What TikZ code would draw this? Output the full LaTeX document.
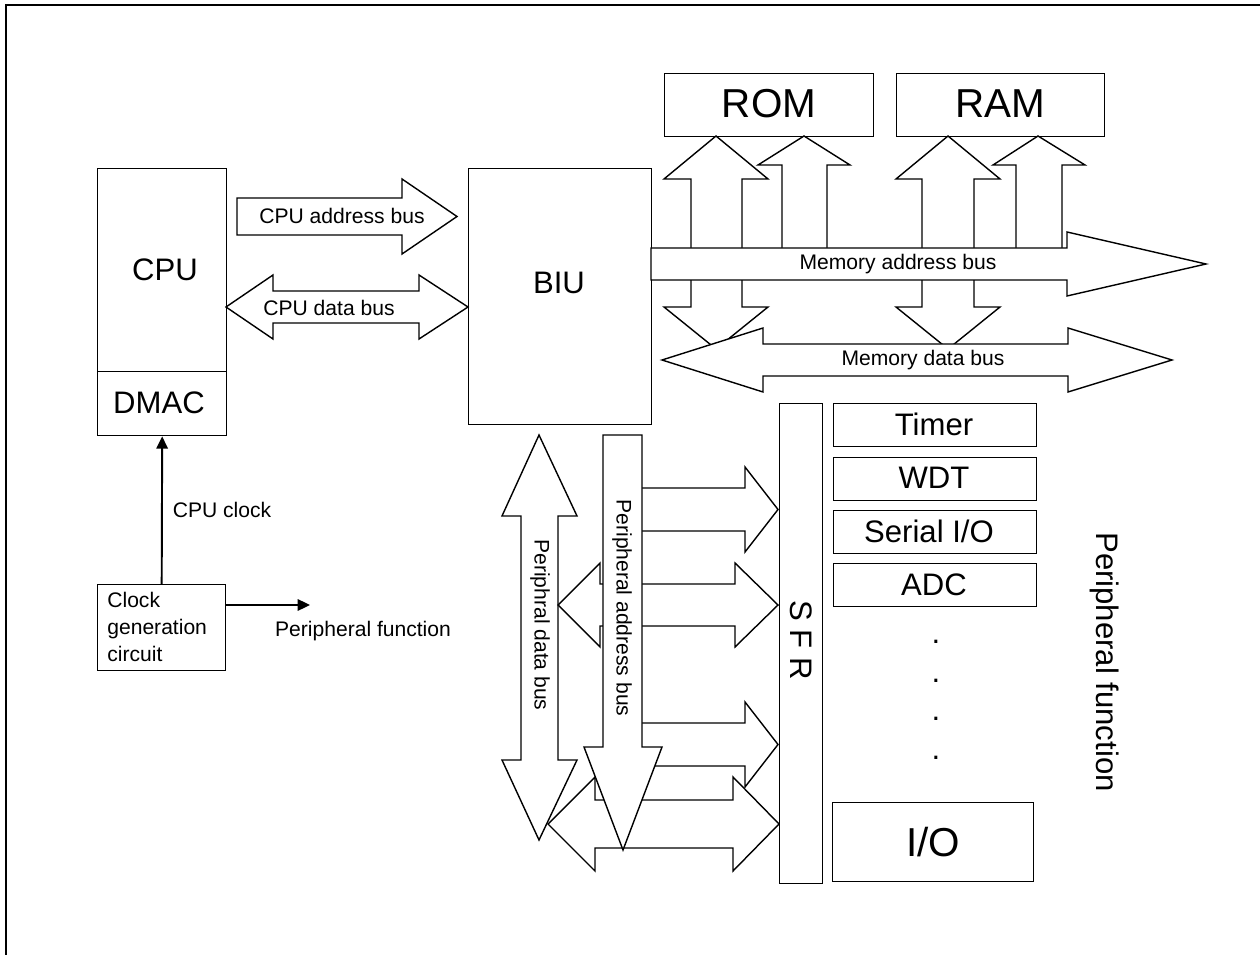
\documentclass[tikz,border=0pt]{standalone}
\usepackage{fontspec}
\setmainfont{Liberation Sans}
\usetikzlibrary{arrows.meta}

\begin{document}
\begin{tikzpicture}[x=0.02cm, y=-0.02cm,
    blk/.style={draw, line width=0.8pt, inner sep=0pt, anchor=north west},
    bus/.style={draw, fill=white, line width=0.8pt},
    clk/.style={line width=1.1pt, -{Triangle[length=7pt, width=6.5pt]}},
    lbl/.style={font=\fontsize{12}{14}\selectfont},
    lblbig/.style={font=\fontsize{17.7}{21}\selectfont},
    lblhuge/.style={font=\fontsize{23}{27}\selectfont}]

    \useasboundingbox (0,0) rectangle (1260,955);
    \draw[line width=1.3pt] (6,955) -- (6,5) -- (1260,5);

    % blocks
    \node[blk, minimum width=2.58cm, minimum height=4.06cm] (cpu) at (97,168) {};
    \node[blk, minimum width=2.58cm, minimum height=1.28cm] (dmac) at (97,371) {};
    \node[blk, minimum width=2.56cm, minimum height=1.72cm] (clock) at (97,584) {};
    \node[blk, minimum width=3.66cm, minimum height=5.12cm] (biu) at (468,168) {};
    \node[blk, minimum width=4.18cm, minimum height=1.26cm] (rom) at (664,73) {};
    \node[blk, minimum width=4.16cm, minimum height=1.26cm] (ram) at (896,73) {};
    \node[blk, minimum width=0.86cm, minimum height=9.6cm] (sfr) at (779,403) {};
    \node[blk, minimum width=4.06cm, minimum height=0.86cm] (timer) at (833,403) {};
    \node[blk, minimum width=4.06cm, minimum height=0.86cm] (wdt) at (833,457) {};
    \node[blk, minimum width=4.06cm, minimum height=0.86cm] (sio) at (833,510) {};
    \node[blk, minimum width=4.06cm, minimum height=0.86cm] (adc) at (833,563) {};
    \node[blk, minimum width=4.02cm, minimum height=1.58cm] (io) at (832,802) {};

    \node[lblbig] (cputxt) at (165,270) {CPU};
    \node[lblbig] (dmactxt) at (159,403) {DMAC};
    \node[lblbig] (biutxt) at (559,283) {BIU};
    \node[lblhuge] (romtxt) at (769,104) {ROM};
    \node[lblhuge] (ramtxt) at (1000,104) {RAM};
    \node[lblbig, rotate=-90] (sfrtxt) at (801,640) {S F R};
    \node[lblbig] (timertxt) at (934,424.5) {Timer};
    \node[lblbig] (wdttxt) at (934,478) {WDT};
    \node[lblbig] (siotxt) at (929,531) {Serial I/O};
    \node[lblbig] (adctxt) at (934,585) {ADC};
    \node[lblbig] (dot1) at (936,642) {.};
    \node[lblbig] (dot2) at (936,681) {.};
    \node[lblbig] (dot3) at (936,719) {.};
    \node[lblbig] (dot4) at (936,758) {.};
    \node[lblhuge] (iotxt) at (933,842) {I/O};
    \node[lblbig, rotate=-90] (pftxt) at (1105,662) {Peripheral function};
    \node[lbl, anchor=west, inner sep=0pt, align=left,
          font=\fontsize{12}{15.3}\selectfont] (clocktxt) at (107,627)
          {Clock\\generation\\circuit};

    % clock lines
    \draw[clk] (clock.north) -- (dmac.south);
    \node[lbl] (cpuclk) at (222,510) {CPU clock};
    \coordinate (pfend) at (310,605);
    \draw[clk] (clock.east |- pfend) -- (pfend);
    \node[lbl] (pfclk) at (363,631) {Peripheral function};

    % CPU buses
    \filldraw[bus] (237,198) -- (402,198) -- (402,179) -- (457,216.5) -- (402,254) -- (402,235) -- (237,235) -- cycle;
    \node[lbl] (cab) at (342,216) {CPU address bus};
    \filldraw[bus] (226,307) -- (273,275) -- (273,291) -- (419,291) -- (419,275) -- (468,307) -- (419,339) -- (419,323) -- (273,323) -- (273,339) -- cycle;
    \node[lbl] (cdb) at (329,308) {CPU data bus};

    % ROM / RAM arrows
    \filldraw[bus] (716,136) -- (768,179) -- (742,179) -- (742,307) -- (768,307) -- (716,349) -- (664,307) -- (691,307) -- (691,179) -- (664,179) -- cycle;
    \filldraw[bus] (804,136) -- (850,165) -- (827,165) -- (827,262) -- (782,262) -- (782,165) -- (758,165) -- cycle;
    \filldraw[bus] (948,136) -- (1000,179) -- (974,179) -- (974,307) -- (1000,307) -- (948,349) -- (896,307) -- (922,307) -- (922,179) -- (896,179) -- cycle;
    \filldraw[bus] (1038,136) -- (1085,165) -- (1062,165) -- (1062,262) -- (1016,262) -- (1016,165) -- (993,165) -- cycle;

    % memory buses
    \filldraw[bus] (651,248) -- (1067,248) -- (1067,232) -- (1206,264) -- (1067,296) -- (1067,280) -- (651,280) -- cycle;
    \node[lbl] (mab) at (898,264) {Memory address bus};
    \filldraw[bus] (662,360) -- (763,328) -- (763,344) -- (1068,344) -- (1068,328) -- (1172,360) -- (1068,392) -- (1068,376) -- (763,376) -- (763,392) -- cycle;
    \node[lbl] (mdb) at (923,360) {Memory data bus};

    % peripheral buses
    \filldraw[bus] (539,435) -- (577,516) -- (558,516) -- (558,760) -- (577,760) -- (539,840) -- (502,760) -- (521,760) -- (521,516) -- (502,516) -- cycle;
    \filldraw[bus] (630,488) -- (745,488) -- (745,467) -- (778,509.5) -- (745,552) -- (745,531) -- (630,531) -- cycle;
    \filldraw[bus] (558,605) -- (600,563) -- (600,584) -- (735,584) -- (735,563) -- (778,605) -- (735,647) -- (735,626) -- (600,626) -- (600,647) -- cycle;
    \filldraw[bus] (630,723) -- (745,723) -- (745,702) -- (778,744.5) -- (745,787) -- (745,766) -- (630,766) -- cycle;
    \filldraw[bus] (548,824) -- (595,777) -- (595,800) -- (733,800) -- (733,777) -- (779,824) -- (733,871) -- (733,848) -- (595,848) -- (595,871) -- cycle;
    \filldraw[bus] (603,435) -- (642,435) -- (642,747) -- (662,747) -- (623,850) -- (584,747) -- (603,747) -- cycle;
    \node[lbl, rotate=-90] (pdb) at (540,625) {Periphral data bus};
    \node[lbl, rotate=-90] (pab) at (622,608) {Peripheral address bus};
\end{tikzpicture}
\end{document}
